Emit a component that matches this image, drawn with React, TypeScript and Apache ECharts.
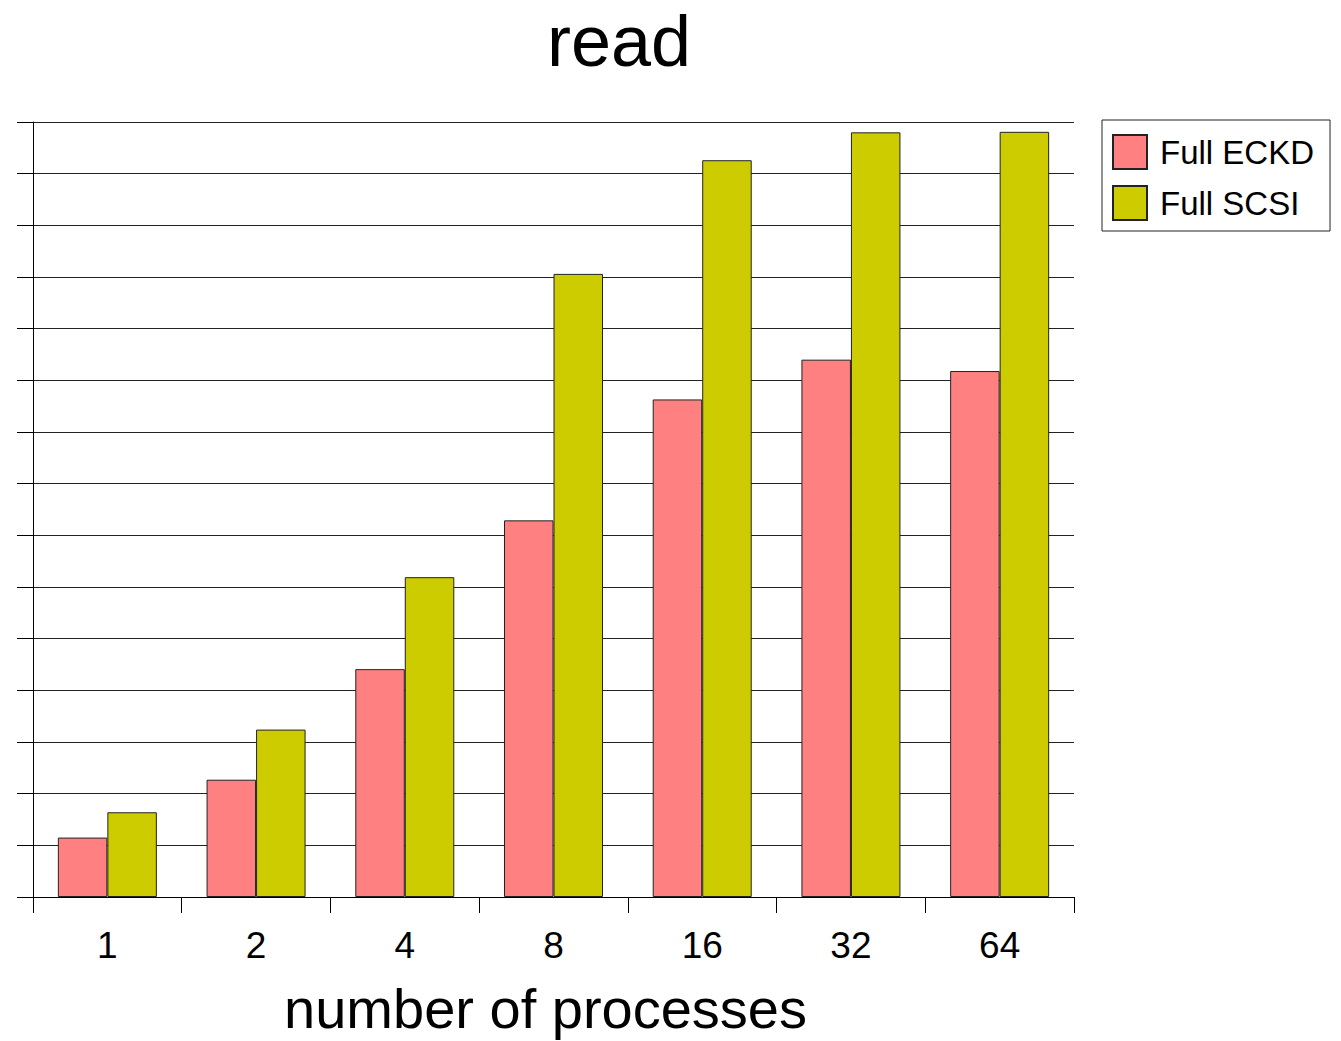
import React, { useEffect, useRef } from "react";
import * as echarts from "echarts";

// Read throughput by number of processes, two disk setups
const categories = ["1", "2", "4", "8", "16", "32", "64"];
const fullEckd = [1.15, 2.27, 4.41, 7.29, 9.63, 10.4, 10.18];
const fullScsi = [1.64, 3.24, 6.19, 12.06, 14.26, 14.8, 14.81];
const seriesNames = ["Full ECKD", "Full SCSI"];

const FONT = "'Liberation Sans', Arial, Helvetica, sans-serif";

export default function App() {
  const ref = useRef<HTMLDivElement>(null);

  useEffect(() => {
    if (!ref.current) return;
    const chart = echarts.init(ref.current, undefined, { renderer: "svg" });
    chart.setOption({
      animation: false,
      backgroundColor: "#ffffff",
      textStyle: { fontFamily: FONT },
      title: {
        text: "read",
        left: 619,
        top: 5,
        textAlign: "center",
        padding: 0,
        textStyle: { fontSize: 72, lineHeight: 72, fontWeight: "normal", color: "#000", fontFamily: FONT },
      },
      legend: {
        orient: "vertical",
        left: 1102,
        top: 120,
        padding: [14, 16, 10, 10],
        itemWidth: 34,
        itemHeight: 34,
        itemGap: 15,
        borderColor: "#222",
        borderWidth: 1,
        icon: "rect",
        textStyle: { fontSize: 33, color: "#000", fontFamily: FONT, padding: [0, 0, 0, 8] },
        data: seriesNames,
      },
      grid: { left: 33, width: 1041, top: 122, height: 780, containLabel: false },
      xAxis: {
        type: "category",
        data: categories,
        axisLine: { show: true, lineStyle: { color: "#000", width: 1 } },
        axisTick: { show: true, length: 16, lineStyle: { color: "#000" } },
        axisLabel: { fontSize: 37, color: "#000", margin: 30, fontFamily: FONT },
        name: "number of processes",
        nameLocation: "middle",
        nameGap: 83,
        nameTextStyle: { fontSize: 56, color: "#000", fontFamily: FONT, padding: [0, 16, 0, 0] },
      },
      yAxis: {
        type: "value",
        min: 0,
        max: 15,
        interval: 1,
        axisLine: { show: true, lineStyle: { color: "#000", width: 1 } },
        axisTick: { show: true, length: 16, lineStyle: { color: "#000" } },
        axisLabel: { show: false },
        splitLine: { show: true, lineStyle: { color: "#222", width: 1 } },
      },
      series: [
        {
          name: seriesNames[0],
          type: "bar",
          data: fullEckd,
          barWidth: 49.5,
          barGap: "0%",
          itemStyle: { color: "#FF8080", borderColor: "#222", borderWidth: 1 },
        },
        {
          name: seriesNames[1],
          type: "bar",
          data: fullScsi,
          barWidth: 49.5,
          barGap: "0%",
          itemStyle: { color: "#CCCC00", borderColor: "#222", borderWidth: 1 },
        },
      ],
    });
    return () => chart.dispose();
  }, []);

  return (
    <div
      ref={ref}
      style={{ width: "100vw", height: "100vh", position: "fixed", left: 0, top: 0, overflow: "hidden" }}
    />
  );
}
